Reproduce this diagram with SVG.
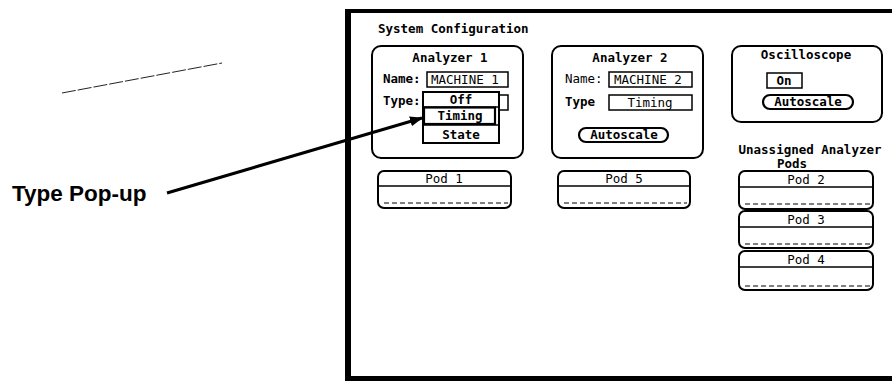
<svg xmlns="http://www.w3.org/2000/svg" width="892" height="381" viewBox="0 0 892 381">
<style>
.t{font-family:"DejaVu Sans Mono","Liberation Mono",monospace;font-size:12.5px;fill:#000;font-weight:bold}
.n{font-family:"DejaVu Sans Mono","Liberation Mono",monospace;font-size:12.5px;fill:#000}
.box{fill:#fff;stroke:#000;stroke-width:2}
.fld{fill:#fff;stroke:#000;stroke-width:1.5}
.btn{fill:#fff;stroke:#000;stroke-width:2.2}
.dash{stroke:#000;stroke-width:1.2;stroke-dasharray:5 3;fill:none}
.ln{stroke:#000;stroke-width:1.5;fill:none}
.lbl{font-family:"Liberation Sans",Arial,sans-serif;font-weight:bold;font-size:22.5px;fill:#000}
</style>
<defs>
<marker id="ah" markerWidth="14" markerHeight="10" refX="12" refY="5" orient="auto" markerUnits="userSpaceOnUse">
<path d="M0,0 L13,5 L0,10 Z" fill="#000"/>
</marker>
</defs>
<rect width="892" height="381" fill="#fff"/>
<g id="frame">
<rect x="345" y="9" width="547" height="4" fill="#000"/>
<rect x="345" y="9" width="6" height="372" fill="#000"/>
<rect x="345" y="376" width="547" height="5" fill="#000"/>
<text class="t" x="378" y="33">System Configuration</text>
</g>
<g id="analyzer1">
<rect class="box" x="372" y="46" width="151" height="112" rx="9"/>
<text class="t" x="450" y="62" text-anchor="middle">Analyzer 1</text>
<text class="t" x="383" y="83">Name:</text>
<rect class="fld" x="427" y="72" width="81" height="15"/>
<text class="n" x="431" y="84">MACHINE 1</text>
<text class="t" x="383" y="105">Type:</text>
<rect class="fld" x="427" y="95" width="81" height="15"/>
</g>
<g id="typepopup">
<rect x="423" y="92" width="76" height="51" fill="#fff" stroke="#000" stroke-width="2"/>
<line class="ln" x1="423" y1="107" x2="499" y2="107"/>
<rect x="424" y="107.5" width="71" height="16.5" fill="#fff" stroke="#000" stroke-width="2.2"/>
<line class="ln" x1="423" y1="125" x2="499" y2="125"/>
<text class="t" x="461" y="104" text-anchor="middle">Off</text>
<text class="t" x="460" y="120" text-anchor="middle">Timing</text>
<text class="t" x="461" y="139" text-anchor="middle">State</text>
</g>
<g id="analyzer2">
<rect class="box" x="552" y="46" width="151" height="112" rx="9"/>
<text class="t" x="630" y="62" text-anchor="middle">Analyzer 2</text>
<text class="n" x="565" y="83">Name:</text>
<rect class="fld" x="609" y="72" width="83" height="15"/>
<text class="n" x="614" y="84">MACHINE 2</text>
<text class="t" x="565" y="106">Type</text>
<rect class="fld" x="609" y="95" width="83" height="15"/>
<text class="n" x="650" y="107" text-anchor="middle">Timing</text>
<rect class="btn" x="579" y="128" width="89" height="14" rx="7"/>
<text class="t" x="624" y="139" text-anchor="middle">Autoscale</text>
</g>
<g id="oscilloscope">
<rect class="box" x="732" y="46" width="150" height="76" rx="9"/>
<text class="t" x="806" y="59" text-anchor="middle">Oscilloscope</text>
<rect class="fld" x="767" y="73" width="35" height="15"/>
<text class="t" x="784" y="85" text-anchor="middle">On</text>
<rect class="btn" x="763" y="95" width="90" height="14" rx="7"/>
<text class="t" x="808" y="106" text-anchor="middle">Autoscale</text>
</g>
<g id="pod1">
<rect class="box" x="378" y="171" width="133" height="37" rx="6"/>
<line class="ln" x1="378" y1="186" x2="511" y2="186"/>
<text class="n" x="444" y="183" text-anchor="middle">Pod 1</text>
<line class="dash" x1="384" y1="203" x2="508" y2="203"/>
</g>
<g id="pod5">
<rect class="box" x="558" y="171" width="132" height="37" rx="6"/>
<line class="ln" x1="558" y1="186" x2="690" y2="186"/>
<text class="n" x="624" y="183" text-anchor="middle">Pod 5</text>
<line class="dash" x1="564" y1="203" x2="687" y2="203"/>
</g>
<g id="unassigned">
<text class="t" x="810" y="154" text-anchor="middle">Unassigned Analyzer</text>
<text class="t" x="792" y="168" text-anchor="middle" font-size="9">Pods</text>
</g>
<g id="pod2">
<rect class="box" x="739" y="171" width="134" height="38" rx="6"/>
<line class="ln" x1="739" y1="187" x2="873" y2="187"/>
<text class="n" x="806" y="184" text-anchor="middle">Pod 2</text>
<line class="dash" x1="745" y1="204" x2="870" y2="204"/>
</g>
<g id="pod3">
<rect class="box" x="739" y="211" width="134" height="37" rx="6"/>
<line class="ln" x1="739" y1="227" x2="873" y2="227"/>
<text class="n" x="806" y="224" text-anchor="middle">Pod 3</text>
<line class="dash" x1="745" y1="244" x2="870" y2="244"/>
</g>
<g id="pod4">
<rect class="box" x="739" y="251" width="134" height="39" rx="6"/>
<line class="ln" x1="739" y1="267" x2="873" y2="267"/>
<text class="n" x="806" y="264" text-anchor="middle">Pod 4</text>
<line class="dash" x1="745" y1="286" x2="870" y2="286"/>
</g>
<g id="label">
<text class="lbl" x="12" y="201">Type Pop-up</text>
</g>
<g id="connectors">
<line x1="62" y1="93" x2="222" y2="63" stroke="#222" stroke-width="1" stroke-dasharray="14 2"/>
<line x1="167" y1="193" x2="422" y2="118" stroke="#000" stroke-width="3" marker-end="url(#ah)"/>
</g>
</svg>
